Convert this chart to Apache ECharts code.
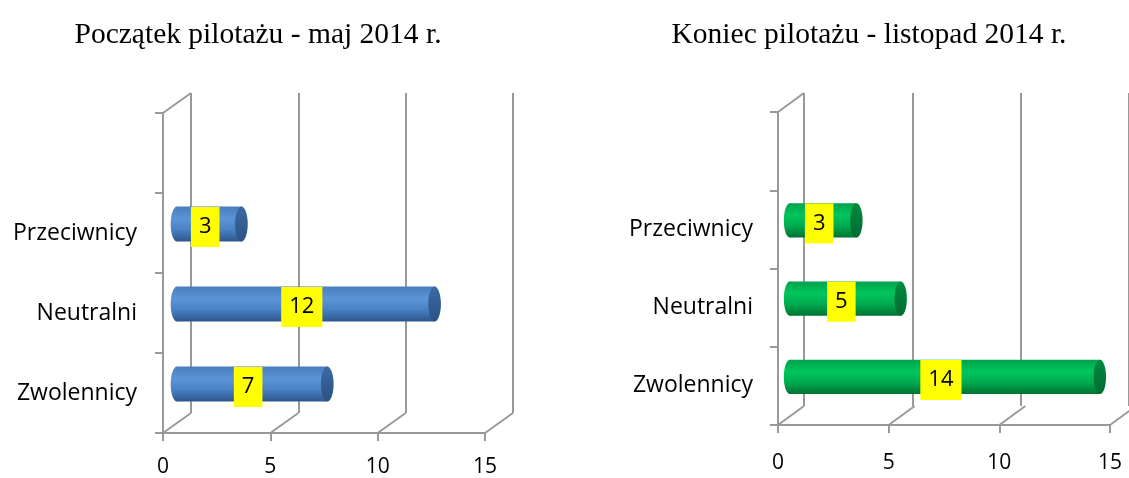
<!DOCTYPE html>
<html>
<head>
<meta charset="utf-8">
<script src="https://cdn.jsdelivr.net/npm/echarts@6/dist/echarts.min.js"></script>
<style>
  html, body { margin: 0; padding: 0; background: #fff; }
  #chart { width: 1129px; height: 478px; }
</style>
</head>
<body>
<div id="chart"></div>
<script>
// dane
const categories = ['Zwolennicy', 'Neutralni', 'Przeciwnicy', ''];
const startValues = [7, 12, 3];   // maj 2014
const endValues = [14, 5, 3];     // listopad 2014
const xTicks = [0, 5, 10, 15];
const titleStart = 'Początek pilotażu - maj 2014 r.';
const titleEnd = 'Koniec pilotażu - listopad 2014 r.';

const lineColor = '#999999';
const catFont = '"Open Sans", sans-serif';

const blue = {
  body: [
    { offset: 0, color: '#4a7dbd' },
    { offset: 0.35, color: '#5b95d8' },
    { offset: 0.65, color: '#4a82c4' },
    { offset: 1, color: '#2d568b' }
  ],
  end: [
    { offset: 0, color: '#3d6aa3' },
    { offset: 1, color: '#2b5283' }
  ]
};
const green = {
  body: [
    { offset: 0, color: '#00a24c' },
    { offset: 0.35, color: '#00c65c' },
    { offset: 0.65, color: '#00ac50' },
    { offset: 1, color: '#007232' }
  ],
  end: [
    { offset: 0, color: '#008a40' },
    { offset: 1, color: '#006c30' }
  ]
};

// walec (cylinder) + żółta etykieta
function barRenderer(colors) {
  return function (params, api) {
    const idx = api.value(1);
    const v = api.value(0);
    const p0 = api.coord([0, idx]);
    const p1 = api.coord([v, idx]);
    const band = api.size([0, 1])[1];
    const h = band * 0.44;
    const ry = h / 2;
    const rx = ry * 0.36;
    const mid = api.coord([v / 2, idx]);
    return {
      type: 'group',
      children: [
        {
          type: 'ellipse',
          shape: { cx: p0[0], cy: p0[1], rx: rx, ry: ry },
          style: { fill: new echarts.graphic.LinearGradient(0, 0, 0, 1, colors.body) }
        },
        {
          type: 'rect',
          shape: { x: p0[0], y: p0[1] - ry, width: p1[0] - p0[0], height: h },
          style: { fill: new echarts.graphic.LinearGradient(0, 0, 0, 1, colors.body) }
        },
        {
          type: 'ellipse',
          shape: { cx: p1[0], cy: p1[1], rx: rx, ry: ry },
          style: { fill: new echarts.graphic.LinearGradient(0, 0, 0, 1, colors.end) }
        },
        {
          type: 'text',
          x: mid[0] - 4,
          y: p0[1] + 3,
          style: {
            text: String(v),
            fill: '#000',
            font: '22px ' + catFont,
            align: 'center',
            verticalAlign: 'middle',
            lineHeight: 22,
            backgroundColor: '#ffff00',
            padding: [9, 8]
          }
        }
      ]
    };
  };
}

// ukośne linie podłogi i górnego rogu
function frameRenderer(dx, dy) {
  return function (params, api) {
    const cs = params.coordSys;
    const x0 = api.coord([api.value(0), 0])[0];
    const y0 = api.value(2) === 1 ? cs.y : cs.y + cs.height;
    return {
      type: 'line',
      shape: { x1: x0, y1: y0, x2: x0 + dx, y2: y0 + dy },
      style: { stroke: lineColor, lineWidth: 2 }
    };
  };
}

const frameData = xTicks.map(function (t) { return [t, 0, 0]; }).concat([[xTicks[0], 3, 1]]);

const grids = [
  { left: 163, top: 113, width: 322, height: 320 }, // lewy - przód
  { left: 191, top: 93, width: 322, height: 320 },  // lewy - tył
  { left: 177, top: 104, width: 322, height: 320 }, // lewy - środek (walce)
  { left: 778, top: 112, width: 332, height: 313 }, // prawy - przód
  { left: 804, top: 93, width: 332, height: 313 },  // prawy - tył
  { left: 790, top: 103, width: 332, height: 313 }  // prawy - środek
];

function valueAxis(gridIndex, kind, labelMargin) {
  const ax = {
    type: 'value', gridIndex: gridIndex,
    min: xTicks[0], max: xTicks[xTicks.length - 1], interval: xTicks[1] - xTicks[0]
  };
  if (kind === 'front') {
    ax.axisLine = { show: true, lineStyle: { color: lineColor, width: 2 } };
    ax.axisTick = { show: true, length: 8, lineStyle: { color: lineColor, width: 2 } };
    ax.axisLabel = { color: '#000', fontSize: 21, fontFamily: catFont, margin: labelMargin };
    ax.splitLine = { show: false };
  } else if (kind === 'back') {
    ax.axisLine = { show: false };
    ax.axisTick = { show: false };
    ax.axisLabel = { show: false };
    ax.splitLine = { show: true, lineStyle: { color: lineColor, width: 2 } };
  } else {
    ax.show = false;
  }
  return ax;
}

function catAxis(gridIndex, kind, labelMargin) {
  const ax = { type: 'category', gridIndex: gridIndex, data: categories };
  if (kind === 'front') {
    ax.axisLine = { show: true, lineStyle: { color: lineColor, width: 2 } };
    ax.axisTick = { show: true, length: 8, lineStyle: { color: lineColor, width: 2 } };
    ax.axisLabel = { color: '#000', fontSize: 23, fontFamily: catFont, margin: labelMargin };
    ax.splitLine = { show: false };
  } else {
    ax.show = false;
  }
  return ax;
}

const titleStyle = { fontFamily: '"Liberation Serif", serif', fontSize: 29.5, fontWeight: 'normal', color: '#000' };

const chart = echarts.init(document.getElementById('chart'));
chart.setOption({
  animation: false,
  title: [
    { text: titleStart, left: 253, top: 15, textAlign: 'center', textStyle: titleStyle },
    { text: titleEnd, left: 864, top: 15, textAlign: 'center', textStyle: titleStyle }
  ],
  grid: grids,
  xAxis: [
    valueAxis(0, 'front', 24), valueAxis(1, 'back'), valueAxis(2, 'mid'),
    valueAxis(3, 'front', 28), valueAxis(4, 'back'), valueAxis(5, 'mid')
  ],
  yAxis: [
    catAxis(0, 'front', 26), catAxis(1, 'back'), catAxis(2, 'mid'),
    catAxis(3, 'front', 25), catAxis(4, 'back'), catAxis(5, 'mid')
  ],
  series: [
    { type: 'custom', xAxisIndex: 0, yAxisIndex: 0, clip: false, silent: true,
      renderItem: frameRenderer(28, -20), data: frameData },
    { type: 'custom', xAxisIndex: 2, yAxisIndex: 2, clip: false, z: 5,
      renderItem: barRenderer(blue),
      data: startValues.map(function (v, i) { return [v, i]; }) },
    { type: 'custom', xAxisIndex: 3, yAxisIndex: 3, clip: false, silent: true,
      renderItem: frameRenderer(26, -19), data: frameData },
    { type: 'custom', xAxisIndex: 5, yAxisIndex: 5, clip: false, z: 5,
      renderItem: barRenderer(green),
      data: endValues.map(function (v, i) { return [v, i]; }) }
  ]
});
</script>
</body>
</html>
